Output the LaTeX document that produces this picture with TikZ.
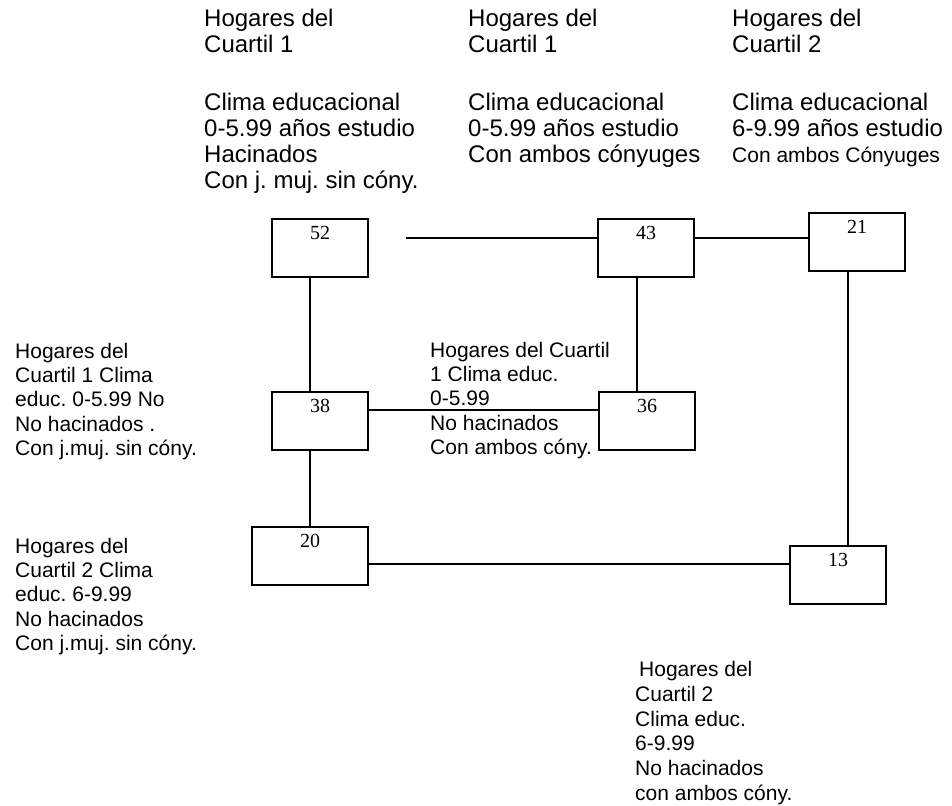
\documentclass[tikz,border=0pt]{standalone}
\usepackage{fontspec}
\setmainfont{Liberation Sans}
\newfontfamily\numfont{Liberation Serif}
\frenchspacing
\begin{document}
\begin{tikzpicture}[x=1pt,y=-1pt,
  cell/.style={draw, line width=1.8pt, inner xsep=0pt, inner ysep=0pt,
    minimum width=96pt, text height=20.5pt, text depth=37.5pt, anchor=north,
    font=\numfont\fontsize{20}{22}\selectfont},
  link/.style={line width=1.8pt},
  toptext/.style={anchor=north west, inner sep=0pt, align=left,
    font=\fontsize{24}{26}\selectfont},
  note/.style={anchor=north west, inner sep=0pt, align=left,
    font=\fontsize{21}{24.2}\selectfont}]
\useasboundingbox (0,0) rectangle (952,805);

% boxes
\node[cell] (n52) at (320,218) {52};
\node[cell] (n43) at (646,218) {43};
\node[cell] (n21) at (857,212) {21};
\node[cell] (n38) at (320,391) {38};
\node[cell] (n36) at (647,391) {36};
\node[cell, minimum width=116pt] (n20) at (310,526) {20};
\node[cell] (n13) at (838,545) {13};

% connectors
\coordinate (open) at (406,238);
\coordinate (v2) at (637,0);
\coordinate (v3) at (848,0);
\coordinate (r2) at (0,410);
\coordinate (r3) at (0,564);
\draw[link] (open) -- (open -| n43.west);
\draw[link] (n43.east |- open) -- (n21.west |- open);
\draw[link] (n52.south -| n20.north) -- (n38.north -| n20.north);
\draw[link] (n38.south -| n20.north) -- (n20.north);
\draw[link] (n43.south -| v2) -- (n36.north -| v2);
\draw[link] (n38.east |- r2) -- (n36.west |- r2);
\draw[link] (n20.east |- r3) -- (n13.west |- r3);
\draw[link] (n21.south -| v3) -- (n13.north -| v3);

% descriptions
\node[toptext] (t1) at (204,9) {Hogares del\\Cuartil 1\\[32pt]Clima educacional\\0-5.99 años estudio\\Hacinados\\Con j. muj. sin cóny.};
\node[toptext] (t2) at (468,9) {Hogares del\\Cuartil 1\\[32pt]Clima educacional\\0-5.99 años estudio\\Con ambos cónyuges};
\node[toptext] (t3) at (732,9) {Hogares del\\Cuartil 2\\[32pt]Clima educacional\\6-9.99 años estudio\\{\fontsize{21}{26}\selectfont Con ambos Cónyuges}};
\node[note] (l1) at (15,343) {Hogares del\\Cuartil 1 Clima\\educ. 0-5.99 No\\No hacinados .\\Con j.muj. sin cóny.};
\node[note] (m1) at (430,342) {Hogares del Cuartil\\1 Clima educ.\\0-5.99\\No hacinados\\Con ambos cóny.};
\node[note] (l2) at (15,538) {Hogares del\\Cuartil 2 Clima\\educ. 6-9.99\\No hacinados\\Con j.muj. sin cóny.};
\node[note, font=\fontsize{21}{24.8}\selectfont] (b1) at (635,661) {\hspace{4pt}Hogares del\\Cuartil 2\\Clima educ.\\6-9.99\\No hacinados\\con ambos cóny.};
\end{tikzpicture}
\end{document}
